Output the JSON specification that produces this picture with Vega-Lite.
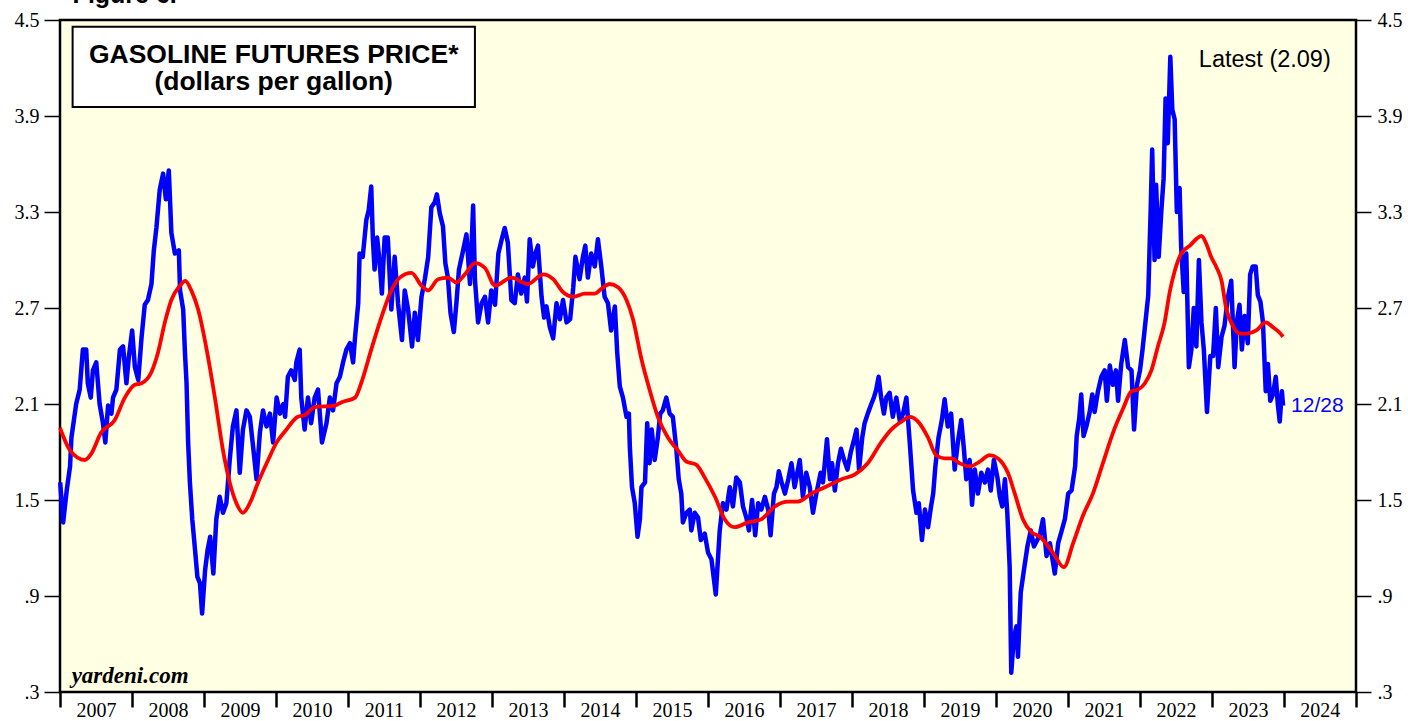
{
  "$schema": "https://vega.github.io/schema/vega-lite/v6.json",
  "autosize": "none",
  "width": 1296,
  "height": 672,
  "padding": {"left": 60, "top": 20, "right": 52, "bottom": 29},
  "background": "white",
  "config": {
    "view": {"fill": "#FFFFE4", "stroke": "black", "strokeWidth": 2.5},
    "axis": {"labelFont": "Liberation Serif", "labelColor": "black", "tickColor": "black", "domain": false, "grid": false}
  },
  "datasets": {
    "price": [
      {"date":"2007-01-02","price":1.61},{"date":"2007-01-17","price":1.36},{"date":"2007-02-04","price":1.56},{"date":"2007-02-21","price":1.71},{"date":"2007-02-28","price":1.89},{"date":"2007-03-24","price":2.10},{"date":"2007-04-11","price":2.19},{"date":"2007-04-27","price":2.44},{"date":"2007-05-14","price":2.44},{"date":"2007-05-22","price":2.23},{"date":"2007-06-06","price":2.14},{"date":"2007-06-17","price":2.31},{"date":"2007-07-04","price":2.36},{"date":"2007-07-21","price":2.10},{"date":"2007-08-07","price":1.98},{"date":"2007-08-19","price":1.86},{"date":"2007-09-02","price":2.09},{"date":"2007-09-19","price":2.04},{"date":"2007-09-27","price":2.14},{"date":"2007-10-14","price":2.19},{"date":"2007-11-01","price":2.44},{"date":"2007-11-17","price":2.46},{"date":"2007-12-04","price":2.23},{"date":"2007-12-16","price":2.39},
      {"date":"2008-01-02","price":2.56},{"date":"2008-01-16","price":2.33},{"date":"2008-02-02","price":2.25},{"date":"2008-02-19","price":2.52},{"date":"2008-03-06","price":2.72},{"date":"2008-03-22","price":2.75},{"date":"2008-04-09","price":2.85},{"date":"2008-04-21","price":3.06},{"date":"2008-05-04","price":3.20},{"date":"2008-05-21","price":3.44},{"date":"2008-06-07","price":3.54},{"date":"2008-06-21","price":3.38},{"date":"2008-07-06","price":3.56},{"date":"2008-07-19","price":3.17},{"date":"2008-08-06","price":3.04},{"date":"2008-08-26","price":3.06},{"date":"2008-09-01","price":2.81},{"date":"2008-09-17","price":2.69},{"date":"2008-09-26","price":2.42},{"date":"2008-10-04","price":2.23},{"date":"2008-10-12","price":1.86},{"date":"2008-10-21","price":1.61},{"date":"2008-11-02","price":1.38},{"date":"2008-11-16","price":1.19},{"date":"2008-11-28","price":1.02},{"date":"2008-12-11","price":0.98},{"date":"2008-12-22","price":0.79},
      {"date":"2009-01-06","price":1.06},{"date":"2009-01-19","price":1.19},{"date":"2009-02-01","price":1.27},{"date":"2009-02-17","price":1.04},{"date":"2009-03-04","price":1.38},{"date":"2009-03-21","price":1.52},{"date":"2009-04-07","price":1.42},{"date":"2009-04-24","price":1.48},{"date":"2009-05-11","price":1.75},{"date":"2009-05-27","price":1.96},{"date":"2009-06-14","price":2.06},{"date":"2009-07-01","price":1.67},{"date":"2009-07-17","price":1.94},{"date":"2009-08-04","price":2.06},{"date":"2009-08-21","price":2.02},{"date":"2009-09-07","price":1.83},{"date":"2009-09-24","price":1.63},{"date":"2009-10-11","price":1.92},{"date":"2009-10-27","price":2.06},{"date":"2009-11-14","price":1.96},{"date":"2009-12-01","price":2.04},{"date":"2009-12-17","price":1.86},
      {"date":"2010-01-04","price":2.14},{"date":"2010-01-21","price":2.04},{"date":"2010-02-07","price":2.10},{"date":"2010-02-16","price":2.02},{"date":"2010-03-02","price":2.27},{"date":"2010-03-19","price":2.31},{"date":"2010-04-06","price":2.25},{"date":"2010-04-14","price":2.36},{"date":"2010-05-01","price":2.44},{"date":"2010-05-09","price":2.14},{"date":"2010-05-26","price":1.94},{"date":"2010-06-12","price":2.14},{"date":"2010-06-28","price":1.98},{"date":"2010-07-16","price":2.14},{"date":"2010-08-02","price":2.19},{"date":"2010-08-22","price":1.86},{"date":"2010-09-14","price":1.98},{"date":"2010-10-01","price":2.14},{"date":"2010-10-17","price":2.06},{"date":"2010-11-04","price":2.23},{"date":"2010-11-21","price":2.27},{"date":"2010-12-07","price":2.36},{"date":"2010-12-24","price":2.44},
      {"date":"2011-01-11","price":2.48},{"date":"2011-01-27","price":2.36},{"date":"2011-02-06","price":2.52},{"date":"2011-02-22","price":2.73},{"date":"2011-03-01","price":3.04},{"date":"2011-03-17","price":3.02},{"date":"2011-04-04","price":3.25},{"date":"2011-04-16","price":3.31},{"date":"2011-04-29","price":3.46},{"date":"2011-05-07","price":3.14},{"date":"2011-05-16","price":2.94},{"date":"2011-05-29","price":3.14},{"date":"2011-06-11","price":2.98},{"date":"2011-06-22","price":2.79},{"date":"2011-07-06","price":3.14},{"date":"2011-07-22","price":3.14},{"date":"2011-08-09","price":2.69},{"date":"2011-08-26","price":3.02},{"date":"2011-09-12","price":2.73},{"date":"2011-10-02","price":2.50},{"date":"2011-10-16","price":2.81},{"date":"2011-11-02","price":2.69},{"date":"2011-11-22","price":2.46},{"date":"2011-12-06","price":2.67},{"date":"2011-12-22","price":2.50},
      {"date":"2012-01-09","price":2.77},{"date":"2012-01-26","price":2.88},{"date":"2012-02-12","price":3.02},{"date":"2012-02-28","price":3.33},{"date":"2012-03-16","price":3.36},{"date":"2012-03-27","price":3.41},{"date":"2012-04-11","price":3.29},{"date":"2012-04-27","price":3.21},{"date":"2012-05-09","price":2.98},{"date":"2012-05-22","price":2.89},{"date":"2012-06-04","price":2.67},{"date":"2012-06-21","price":2.55},{"date":"2012-07-04","price":2.73},{"date":"2012-07-17","price":2.94},{"date":"2012-08-07","price":3.06},{"date":"2012-08-24","price":3.16},{"date":"2012-09-11","price":2.85},{"date":"2012-09-27","price":3.34},{"date":"2012-10-06","price":2.88},{"date":"2012-10-22","price":2.61},{"date":"2012-11-09","price":2.73},{"date":"2012-11-26","price":2.77},{"date":"2012-12-12","price":2.61},{"date":"2012-12-28","price":2.81},
      {"date":"2013-01-16","price":2.72},{"date":"2013-02-02","price":3.04},{"date":"2013-02-19","price":3.13},{"date":"2013-03-06","price":3.20},{"date":"2013-03-22","price":3.11},{"date":"2013-04-09","price":2.75},{"date":"2013-04-26","price":2.73},{"date":"2013-05-12","price":2.91},{"date":"2013-05-29","price":2.79},{"date":"2013-06-16","price":2.89},{"date":"2013-06-27","price":2.74},{"date":"2013-07-11","price":3.13},{"date":"2013-07-27","price":2.96},{"date":"2013-08-09","price":3.04},{"date":"2013-08-22","price":3.09},{"date":"2013-09-09","price":2.77},{"date":"2013-09-22","price":2.64},{"date":"2013-10-04","price":2.71},{"date":"2013-10-21","price":2.58},{"date":"2013-11-07","price":2.51},{"date":"2013-11-24","price":2.73},{"date":"2013-12-11","price":2.63},{"date":"2013-12-27","price":2.75},
      {"date":"2014-01-14","price":2.61},{"date":"2014-02-01","price":2.63},{"date":"2014-02-17","price":2.83},{"date":"2014-02-28","price":3.02},{"date":"2014-03-21","price":2.88},{"date":"2014-04-07","price":3.02},{"date":"2014-04-19","price":3.09},{"date":"2014-05-02","price":2.89},{"date":"2014-05-19","price":3.04},{"date":"2014-06-06","price":2.96},{"date":"2014-06-22","price":3.13},{"date":"2014-07-09","price":2.96},{"date":"2014-07-26","price":2.77},{"date":"2014-08-12","price":2.73},{"date":"2014-08-28","price":2.56},{"date":"2014-09-16","price":2.71},{"date":"2014-09-28","price":2.42},{"date":"2014-10-11","price":2.21},{"date":"2014-10-27","price":2.14},{"date":"2014-11-14","price":2.02},{"date":"2014-11-26","price":2.04},{"date":"2014-12-01","price":1.83},{"date":"2014-12-12","price":1.58},{"date":"2014-12-26","price":1.48},
      {"date":"2015-01-09","price":1.27},{"date":"2015-01-21","price":1.38},{"date":"2015-01-29","price":1.58},{"date":"2015-02-16","price":1.61},{"date":"2015-02-27","price":1.98},{"date":"2015-03-11","price":1.73},{"date":"2015-03-22","price":1.94},{"date":"2015-04-06","price":1.75},{"date":"2015-04-22","price":1.89},{"date":"2015-05-04","price":2.04},{"date":"2015-05-17","price":2.06},{"date":"2015-06-04","price":2.14},{"date":"2015-06-21","price":2.04},{"date":"2015-07-07","price":2.02},{"date":"2015-07-24","price":1.83},{"date":"2015-08-06","price":1.63},{"date":"2015-08-19","price":1.54},{"date":"2015-08-27","price":1.36},{"date":"2015-09-14","price":1.42},{"date":"2015-10-01","price":1.44},{"date":"2015-10-09","price":1.31},{"date":"2015-10-26","price":1.42},{"date":"2015-11-12","price":1.39},{"date":"2015-11-26","price":1.25},{"date":"2015-12-16","price":1.29},
      {"date":"2016-01-02","price":1.17},{"date":"2016-01-19","price":1.13},{"date":"2016-02-10","price":0.91},{"date":"2016-03-01","price":1.31},{"date":"2016-03-17","price":1.48},{"date":"2016-04-04","price":1.44},{"date":"2016-04-21","price":1.58},{"date":"2016-05-07","price":1.46},{"date":"2016-05-24","price":1.64},{"date":"2016-06-11","price":1.61},{"date":"2016-06-27","price":1.46},{"date":"2016-07-14","price":1.39},{"date":"2016-07-27","price":1.31},{"date":"2016-08-12","price":1.50},{"date":"2016-08-28","price":1.28},{"date":"2016-09-12","price":1.48},{"date":"2016-09-28","price":1.44},{"date":"2016-10-16","price":1.52},{"date":"2016-11-02","price":1.44},{"date":"2016-11-14","price":1.28},{"date":"2016-12-01","price":1.54},{"date":"2016-12-14","price":1.58},{"date":"2016-12-26","price":1.68},
      {"date":"2017-01-09","price":1.61},{"date":"2017-01-26","price":1.54},{"date":"2017-02-12","price":1.63},{"date":"2017-02-28","price":1.73},{"date":"2017-03-16","price":1.58},{"date":"2017-04-11","price":1.75},{"date":"2017-04-27","price":1.52},{"date":"2017-05-14","price":1.67},{"date":"2017-06-01","price":1.58},{"date":"2017-06-17","price":1.42},{"date":"2017-07-04","price":1.54},{"date":"2017-07-26","price":1.67},{"date":"2017-08-07","price":1.61},{"date":"2017-08-27","price":1.88},{"date":"2017-09-11","price":1.63},{"date":"2017-09-22","price":1.73},{"date":"2017-10-06","price":1.56},{"date":"2017-10-22","price":1.73},{"date":"2017-11-06","price":1.82},{"date":"2017-11-22","price":1.75},{"date":"2017-12-09","price":1.69},{"date":"2017-12-26","price":1.80},
      {"date":"2018-01-12","price":1.88},{"date":"2018-01-24","price":1.94},{"date":"2018-02-06","price":1.69},{"date":"2018-02-22","price":1.89},{"date":"2018-03-06","price":1.98},{"date":"2018-03-22","price":2.04},{"date":"2018-04-09","price":2.10},{"date":"2018-04-22","price":2.14},{"date":"2018-05-04","price":2.19},{"date":"2018-05-16","price":2.27},{"date":"2018-05-29","price":2.14},{"date":"2018-06-12","price":2.04},{"date":"2018-06-24","price":2.14},{"date":"2018-07-11","price":2.17},{"date":"2018-07-27","price":2.02},{"date":"2018-08-14","price":2.14},{"date":"2018-09-01","price":1.99},{"date":"2018-09-17","price":2.04},{"date":"2018-10-04","price":2.14},{"date":"2018-10-21","price":1.86},{"date":"2018-11-07","price":1.56},{"date":"2018-11-24","price":1.42},{"date":"2018-12-06","price":1.48},{"date":"2018-12-22","price":1.25},
      {"date":"2019-01-06","price":1.44},{"date":"2019-01-22","price":1.33},{"date":"2019-02-06","price":1.46},{"date":"2019-02-17","price":1.54},{"date":"2019-02-28","price":1.71},{"date":"2019-03-16","price":1.89},{"date":"2019-04-02","price":2.00},{"date":"2019-04-16","price":2.13},{"date":"2019-05-02","price":1.96},{"date":"2019-05-19","price":2.04},{"date":"2019-06-06","price":1.69},{"date":"2019-06-22","price":1.86},{"date":"2019-07-09","price":2.00},{"date":"2019-07-22","price":1.83},{"date":"2019-08-04","price":1.63},{"date":"2019-08-21","price":1.75},{"date":"2019-09-02","price":1.47},{"date":"2019-09-16","price":1.69},{"date":"2019-10-02","price":1.54},{"date":"2019-10-19","price":1.67},{"date":"2019-11-06","price":1.61},{"date":"2019-11-22","price":1.69},{"date":"2019-12-06","price":1.56},{"date":"2019-12-22","price":1.75},
      {"date":"2020-01-09","price":1.64},{"date":"2020-01-21","price":1.52},{"date":"2020-02-02","price":1.46},{"date":"2020-02-16","price":1.63},{"date":"2020-02-28","price":1.42},{"date":"2020-03-11","price":1.08},{"date":"2020-03-19","price":0.42},{"date":"2020-04-01","price":0.64},{"date":"2020-04-14","price":0.71},{"date":"2020-04-22","price":0.52},{"date":"2020-05-06","price":0.92},{"date":"2020-05-22","price":1.06},{"date":"2020-06-09","price":1.21},{"date":"2020-06-26","price":1.31},{"date":"2020-07-12","price":1.21},{"date":"2020-07-29","price":1.25},{"date":"2020-08-11","price":1.28},{"date":"2020-08-27","price":1.38},{"date":"2020-09-14","price":1.15},{"date":"2020-10-01","price":1.23},{"date":"2020-10-26","price":1.04},{"date":"2020-11-12","price":1.23},{"date":"2020-11-28","price":1.30},{"date":"2020-12-16","price":1.38},
      {"date":"2021-01-02","price":1.54},{"date":"2021-01-19","price":1.56},{"date":"2021-02-06","price":1.71},{"date":"2021-02-14","price":1.90},{"date":"2021-02-27","price":2.01},{"date":"2021-03-09","price":2.16},{"date":"2021-03-21","price":1.90},{"date":"2021-04-04","price":1.96},{"date":"2021-04-21","price":2.05},{"date":"2021-05-04","price":2.16},{"date":"2021-05-16","price":2.05},{"date":"2021-06-02","price":2.18},{"date":"2021-06-19","price":2.27},{"date":"2021-07-06","price":2.31},{"date":"2021-07-17","price":2.12},{"date":"2021-08-01","price":2.34},{"date":"2021-08-17","price":2.22},{"date":"2021-09-01","price":2.31},{"date":"2021-09-12","price":2.12},{"date":"2021-09-28","price":2.35},{"date":"2021-10-16","price":2.50},{"date":"2021-11-02","price":2.33},{"date":"2021-11-19","price":2.31},{"date":"2021-12-02","price":1.94},{"date":"2021-12-17","price":2.22},
      {"date":"2022-01-01","price":2.31},{"date":"2022-01-14","price":2.44},{"date":"2022-02-01","price":2.65},{"date":"2022-02-12","price":2.78},{"date":"2022-02-24","price":3.30},{"date":"2022-03-04","price":3.69},{"date":"2022-03-16","price":3.00},{"date":"2022-03-24","price":3.47},{"date":"2022-04-06","price":3.02},{"date":"2022-04-19","price":3.30},{"date":"2022-05-01","price":3.51},{"date":"2022-05-11","price":4.01},{"date":"2022-05-22","price":3.73},{"date":"2022-06-04","price":4.27},{"date":"2022-06-14","price":3.94},{"date":"2022-06-26","price":3.88},{"date":"2022-07-07","price":3.30},{"date":"2022-07-21","price":3.45},{"date":"2022-07-29","price":3.08},{"date":"2022-08-11","price":2.80},{"date":"2022-08-24","price":3.04},{"date":"2022-09-06","price":2.33},{"date":"2022-09-19","price":2.44},{"date":"2022-10-01","price":2.70},{"date":"2022-10-14","price":2.46},{"date":"2022-10-27","price":3.00},{"date":"2022-11-09","price":2.61},{"date":"2022-11-21","price":2.44},{"date":"2022-12-07","price":2.05},{"date":"2022-12-24","price":2.40},
      {"date":"2023-01-07","price":2.40},{"date":"2023-01-21","price":2.70},{"date":"2023-02-02","price":2.33},{"date":"2023-02-19","price":2.52},{"date":"2023-03-06","price":2.59},{"date":"2023-03-22","price":2.76},{"date":"2023-04-09","price":2.87},{"date":"2023-04-26","price":2.33},{"date":"2023-05-07","price":2.61},{"date":"2023-05-21","price":2.72},{"date":"2023-06-02","price":2.44},{"date":"2023-06-16","price":2.65},{"date":"2023-07-02","price":2.48},{"date":"2023-07-14","price":2.91},{"date":"2023-07-27","price":2.96},{"date":"2023-08-11","price":2.96},{"date":"2023-08-22","price":2.78},{"date":"2023-09-04","price":2.74},{"date":"2023-09-17","price":2.61},{"date":"2023-10-01","price":2.18},{"date":"2023-10-12","price":2.35},{"date":"2023-10-24","price":2.12},{"date":"2023-11-07","price":2.16},{"date":"2023-11-21","price":2.27},{"date":"2023-12-02","price":2.09},{"date":"2023-12-11","price":1.99},{"date":"2023-12-22","price":2.18},{"date":"2023-12-28","price":2.09}
    ],
    "avg": [
      {"date":"2007-01-01","avg":1.95},{"date":"2007-02-21","avg":1.81},{"date":"2007-05-06","avg":1.75},{"date":"2007-06-09","avg":1.79},{"date":"2007-07-28","avg":1.92},{"date":"2007-10-06","avg":2.00},{"date":"2007-11-26","avg":2.14},
      {"date":"2008-01-16","avg":2.22},{"date":"2008-02-19","avg":2.23},{"date":"2008-04-09","avg":2.30},{"date":"2008-05-12","avg":2.42},{"date":"2008-06-16","avg":2.61},{"date":"2008-07-19","avg":2.75},{"date":"2008-09-01","avg":2.84},{"date":"2008-09-28","avg":2.87},{"date":"2008-10-28","avg":2.81},{"date":"2008-12-02","avg":2.69},
      {"date":"2009-01-14","avg":2.44},{"date":"2009-02-26","avg":2.13},{"date":"2009-04-07","avg":1.81},{"date":"2009-05-11","avg":1.61},{"date":"2009-06-14","avg":1.48},{"date":"2009-07-17","avg":1.42},{"date":"2009-08-21","avg":1.48},{"date":"2009-10-02","avg":1.61},{"date":"2009-11-22","avg":1.75},
      {"date":"2010-01-04","avg":1.86},{"date":"2010-02-16","avg":1.93},{"date":"2010-04-22","avg":2.02},{"date":"2010-05-26","avg":2.03},{"date":"2010-07-16","avg":2.08},{"date":"2010-10-26","avg":2.09},{"date":"2010-11-28","avg":2.11},
      {"date":"2011-02-06","avg":2.14},{"date":"2011-03-09","avg":2.23},{"date":"2011-04-29","avg":2.44},{"date":"2011-06-19","avg":2.64},{"date":"2011-08-09","avg":2.81},{"date":"2011-09-21","avg":2.89},{"date":"2011-11-19","avg":2.92},
      {"date":"2012-01-09","avg":2.84},{"date":"2012-02-12","avg":2.81},{"date":"2012-04-02","avg":2.88},{"date":"2012-05-22","avg":2.89},{"date":"2012-07-04","avg":2.86},{"date":"2012-08-16","avg":2.91},{"date":"2012-10-06","avg":2.98},{"date":"2012-11-26","avg":2.95},
      {"date":"2013-01-16","avg":2.84},{"date":"2013-04-09","avg":2.89},{"date":"2013-07-02","avg":2.85},{"date":"2013-09-17","avg":2.91},{"date":"2013-11-07","avg":2.88},{"date":"2013-12-27","avg":2.80},
      {"date":"2014-02-17","avg":2.77},{"date":"2014-04-16","avg":2.79},{"date":"2014-06-06","avg":2.79},{"date":"2014-07-09","avg":2.82},{"date":"2014-08-21","avg":2.85},{"date":"2014-10-02","avg":2.83},{"date":"2014-11-14","avg":2.75},{"date":"2014-12-17","avg":2.63},
      {"date":"2015-01-29","avg":2.38},{"date":"2015-03-11","avg":2.19},{"date":"2015-04-22","avg":2.02},{"date":"2015-06-12","avg":1.89},{"date":"2015-08-02","avg":1.81},{"date":"2015-09-14","avg":1.74},{"date":"2015-11-04","avg":1.72},{"date":"2015-12-16","avg":1.64},
      {"date":"2016-02-06","avg":1.52},{"date":"2016-03-26","avg":1.38},{"date":"2016-05-16","avg":1.33},{"date":"2016-07-22","avg":1.36},{"date":"2016-09-28","avg":1.38},{"date":"2016-12-06","avg":1.46},
      {"date":"2017-02-12","avg":1.49},{"date":"2017-04-02","avg":1.49},{"date":"2017-06-09","avg":1.54},{"date":"2017-08-16","avg":1.58},{"date":"2017-09-19","avg":1.60},{"date":"2017-11-09","avg":1.63},
      {"date":"2018-01-16","avg":1.66},{"date":"2018-03-22","avg":1.73},{"date":"2018-05-29","avg":1.86},{"date":"2018-07-19","avg":1.94},{"date":"2018-09-09","avg":1.99},{"date":"2018-10-21","avg":2.02},{"date":"2018-12-02","avg":1.99},
      {"date":"2019-01-22","avg":1.89},{"date":"2019-03-04","avg":1.78},{"date":"2019-04-16","avg":1.76},{"date":"2019-05-19","avg":1.76},{"date":"2019-07-01","avg":1.73},{"date":"2019-08-21","avg":1.71},{"date":"2019-10-11","avg":1.74},{"date":"2019-12-01","avg":1.78},
      {"date":"2020-01-12","avg":1.76},{"date":"2020-03-02","avg":1.67},{"date":"2020-04-06","avg":1.54},{"date":"2020-05-17","avg":1.38},{"date":"2020-06-28","avg":1.30},{"date":"2020-08-11","avg":1.27},{"date":"2020-10-17","avg":1.17},{"date":"2020-12-11","avg":1.08},
      {"date":"2021-01-27","avg":1.23},{"date":"2021-03-17","avg":1.40},{"date":"2021-05-07","avg":1.54},{"date":"2021-06-27","avg":1.73},{"date":"2021-08-17","avg":1.92},{"date":"2021-10-07","avg":2.07},{"date":"2021-11-19","avg":2.18},{"date":"2021-12-22","avg":2.19},
      {"date":"2022-01-26","avg":2.23},{"date":"2022-02-28","avg":2.31},{"date":"2022-04-02","avg":2.46},{"date":"2022-05-06","avg":2.61},{"date":"2022-06-01","avg":2.80},{"date":"2022-06-26","avg":2.93},{"date":"2022-07-29","avg":3.04},{"date":"2022-09-11","avg":3.09},{"date":"2022-11-09","avg":3.15},{"date":"2022-12-04","avg":3.10},{"date":"2022-12-28","avg":3.02},
      {"date":"2023-01-24","avg":2.955},{"date":"2023-02-19","avg":2.87},{"date":"2023-03-14","avg":2.70},{"date":"2023-04-17","avg":2.59},{"date":"2023-05-21","avg":2.54},{"date":"2023-06-24","avg":2.54},{"date":"2023-08-14","avg":2.56},{"date":"2023-10-01","avg":2.61},{"date":"2023-11-07","avg":2.58},{"date":"2023-12-07","avg":2.55},{"date":"2023-12-28","avg":2.52}
    ]
  },
  "layer": [
    {
      "data": {"name": "price"},
      "mark": {"type": "line", "color": "#0000FF", "strokeWidth": 4.5, "strokeJoin": "round"},
      "encoding": {
        "x": {
          "field": "date", "type": "temporal",
          "scale": {"type": "utc", "domain": [1167609600000, 1735689600000]},
          "axis": {
            "title": null,
            "values": [1167609600000, 1199145600000, 1230768000000, 1262304000000, 1293840000000, 1325376000000, 1356998400000, 1388534400000, 1420070400000, 1451606400000, 1483228800000, 1514764800000, 1546300800000, 1577836800000, 1609459200000, 1640995200000, 1672531200000, 1704067200000, 1735689600000],
            "labelExpr": "+datum.value >= 1735689600000 ? '' : utcFormat(datum.value, '%Y')",
            "labelOffset": 36,
            "labelFlush": false,
            "labelOverlap": false,
            "labelBound": false,
            "labelFontSize": 20,
            "labelBaseline": "top",
            "labelPadding": -7,
            "tickSize": 15,
            "tickWidth": 2.5
          }
        },
        "y": {
          "field": "price", "type": "quantitative",
          "scale": {"domain": [0.3, 4.5], "nice": false, "zero": false},
          "axis": {
            "title": null, "orient": "left",
            "values": [0.3, 0.9, 1.5, 2.1, 2.7, 3.3, 3.9, 4.5],
            "labelExpr": "datum.value < 1 ? substring(format(datum.value, '.1f'), 1) : format(datum.value, '.1f')",
            "labelFontSize": 20, "labelPadding": 5, "tickSize": 16, "tickWidth": 1.5
          }
        }
      }
    },
    {
      "data": {"name": "avg"},
      "mark": {"type": "line", "color": "#FF0000", "strokeWidth": 3.8, "interpolate": "monotone"},
      "encoding": {
        "x": {"field": "date", "type": "temporal"},
        "y": {
          "field": "avg", "type": "quantitative",
          "axis": {
            "title": null, "orient": "right",
            "values": [0.3, 0.9, 1.5, 2.1, 2.7, 3.3, 3.9, 4.5],
            "labelExpr": "datum.value < 1 ? substring(format(datum.value, '.1f'), 1) : format(datum.value, '.1f')",
            "labelFontSize": 20, "labelPadding": 6, "tickSize": 15, "tickWidth": 1.5
          }
        }
      }
    },
    {
      "data": {"values": [{}]},
      "mark": {"type": "rect", "fill": "white", "stroke": "black", "strokeWidth": 2},
      "encoding": {
        "x": {"datum": 1173139200000, "type": "temporal"},
        "x2": {"datum": 1349481600000},
        "y": {"datum": 4.458, "type": "quantitative", "axis": null},
        "y2": {"datum": 3.956}
      }
    },
    {
      "data": {"values": [{}]},
      "mark": {"type": "text", "text": "GASOLINE FUTURES PRICE*", "font": "Liberation Sans", "fontWeight": "bold", "fontSize": 26.5, "align": "center", "baseline": "alphabetic", "color": "black"},
      "encoding": {
        "x": {"datum": 1261267200000, "type": "temporal"},
        "y": {"datum": 4.231, "type": "quantitative", "axis": null}
      }
    },
    {
      "data": {"values": [{}]},
      "mark": {"type": "text", "text": "(dollars per gallon)", "font": "Liberation Sans", "fontWeight": "bold", "fontSize": 26.5, "align": "center", "baseline": "alphabetic", "color": "black"},
      "encoding": {
        "x": {"datum": 1261267200000, "type": "temporal"},
        "y": {"datum": 4.0625, "type": "quantitative", "axis": null}
      }
    },
    {
      "data": {"values": [{}]},
      "mark": {"type": "text", "text": "Latest (2.09)", "font": "Liberation Sans", "fontSize": 23.5, "align": "right", "baseline": "alphabetic", "color": "black"},
      "encoding": {
        "x": {"datum": 1724630400000, "type": "temporal"},
        "y": {"datum": 4.206, "type": "quantitative", "axis": null}
      }
    },
    {
      "data": {"values": [{}]},
      "mark": {"type": "text", "text": "12/28", "font": "Liberation Sans", "fontSize": 21, "align": "left", "baseline": "middle", "dx": 8, "color": "#0000FF"},
      "encoding": {
        "x": {"datum": 1703721600000, "type": "temporal"},
        "y": {"datum": 2.09, "type": "quantitative", "axis": null}
      }
    },
    {
      "data": {"values": [{}]},
      "mark": {"type": "text", "text": "yardeni.com", "font": "Liberation Serif", "fontWeight": "bold", "fontStyle": "italic", "fontSize": 23, "align": "left", "baseline": "alphabetic", "color": "black"},
      "encoding": {
        "x": {"datum": 1172707200000, "type": "temporal"},
        "y": {"datum": 0.356, "type": "quantitative", "axis": null}
      }
    },
    {
      "data": {"values": [{}]},
      "mark": {"type": "text", "text": "Figure 6.", "font": "Liberation Sans", "fontWeight": "bold", "fontSize": 25, "align": "left", "baseline": "alphabetic", "color": "black"},
      "encoding": {
        "x": {"datum": 1173139200000, "type": "temporal"},
        "y": {"datum": 4.606, "type": "quantitative", "axis": null}
      }
    }
  ],
  "resolve": {"axis": {"y": "independent"}}
}
